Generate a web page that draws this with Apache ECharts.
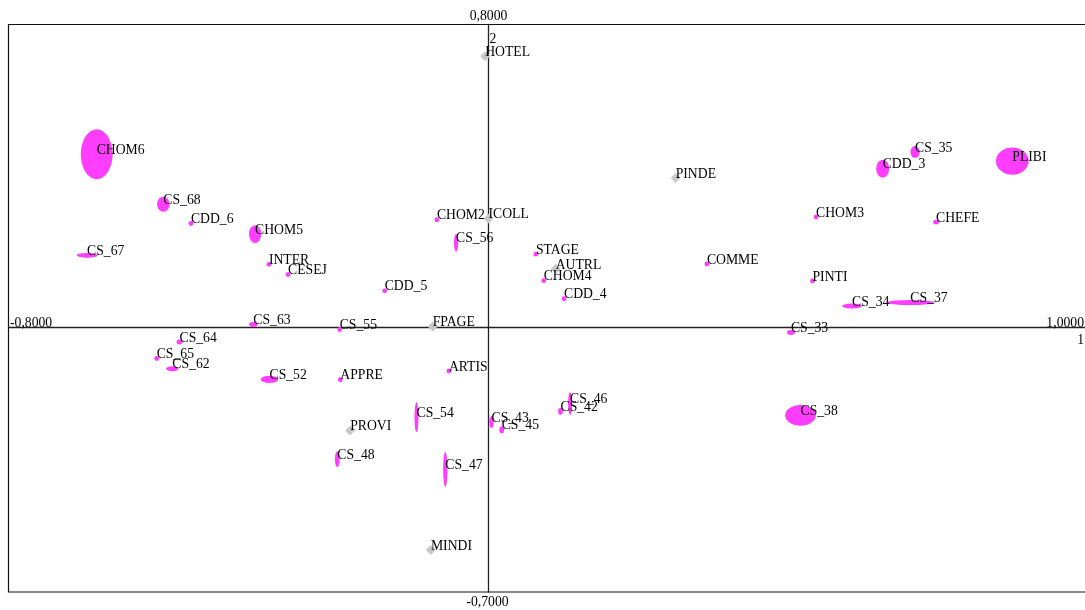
<!DOCTYPE html>
<html><head><meta charset="utf-8">
<script src="https://cdn.jsdelivr.net/npm/echarts@6/dist/echarts.min.js"></script>
<style>html,body{margin:0;padding:0;background:#fff}#c{width:1085px;height:610px}</style>
</head><body><div id="c"></div>
<script>
// Active categories (magenta ellipses)
const activeNames = ['CHOM6','CS_68','CDD_6','CHOM5','CS_67','INTER','CESEJ','CDD_5','CHOM2','CS_56','STAGE','CHOM4','CDD_4','CS_63','CS_55','CS_64','CS_65','CS_62','CS_52','APPRE','ARTIS','CS_54','CS_48','CS_47','CS_43','CS_45','CS_42','CS_46','CS_38','CS_33','CS_34','CS_37','PINTI','COMME','CHOM3','CHEFE','CDD_3','CS_35','PLIBI'];
const activeX = [-0.653,-0.542,-0.496,-0.389,-0.669,-0.366,-0.334,-0.173,-0.086,-0.054,0.079,0.092,0.126,-0.392,-0.248,-0.515,-0.553,-0.527,-0.365,-0.247,-0.066,-0.120,-0.252,-0.072,0.005,0.022,0.120,0.136,0.520,0.504,0.606,0.703,0.540,0.364,0.546,0.746,0.657,0.711,0.873];
const activeY = [0.457,0.325,0.274,0.246,0.190,0.166,0.139,0.096,0.284,0.223,0.193,0.123,0.075,0.007,-0.006,-0.039,-0.083,-0.110,-0.138,-0.139,-0.116,-0.238,-0.349,-0.376,-0.251,-0.271,-0.222,-0.202,-0.233,-0.014,0.056,0.065,0.122,0.167,0.291,0.278,0.419,0.463,0.439];
// Ellipse extents, in axis units (horizontal / vertical)
const ellipseW = [0.053,0.021,0.008,0.0205,0.0345,0.008,0.008,0.008,0.008,0.0072,0.008,0.008,0.008,0.014,0.008,0.010,0.008,0.0205,0.029,0.008,0.008,0.0067,0.008,0.0072,0.0072,0.008,0.008,0.0067,0.051,0.0133,0.0333,0.0805,0.008,0.008,0.008,0.010,0.0217,0.0155,0.0545];
const ellipseH = [0.132,0.040,0.013,0.047,0.0124,0.013,0.013,0.013,0.013,0.047,0.013,0.013,0.013,0.013,0.013,0.013,0.013,0.013,0.0193,0.013,0.013,0.079,0.0415,0.0926,0.0325,0.0185,0.0185,0.060,0.0548,0.013,0.013,0.0132,0.013,0.013,0.013,0.012,0.0476,0.0317,0.0722];
// Supplementary categories (grey diamonds)
const suppNames = ['HOTEL','ICOLL','AUTRL','FPAGE','PINDE','PROVI','MINDI'];
const suppX = [-0.0055,0.000,0.112,-0.093,0.312,-0.2305,-0.096];
const suppY = [0.716,0.287,0.154,0.002,0.394,-0.273,-0.589];
// Axis bounds and their labels
const xBounds = [-0.8, 1.0];
const yBounds = [-0.7, 0.8];
const xBoundLabels = ['-0,8000','1,0000'];
const yBoundLabels = ['-0,7000','0,8000'];
const axisNumbers = ['1','2'];

const FS = 13.7;
const FONT = FS + 'px "Liberation Serif", "DejaVu Serif", serif';
const chart = echarts.init(document.getElementById('c'), null, {renderer:'canvas'});
const axisLine = {show:true, onZero:true, lineStyle:{color:'#222', width:1.3}};
chart.setOption({
  animation:false,
  backgroundColor:'#fff',
  grid:{left:8.5, top:24.5, width:1080, height:567.5, outerBoundsMode:'none', containLabel:false, show:true, borderColor:'#111', borderWidth:1.2, backgroundColor:'transparent'},
  xAxis:{type:'value', min:xBounds[0], max:xBounds[1], axisLine:axisLine, axisTick:{show:false}, axisLabel:{show:false}, splitLine:{show:false}},
  yAxis:{type:'value', min:yBounds[0], max:yBounds[1], axisLine:axisLine, axisTick:{show:false}, axisLabel:{show:false}, splitLine:{show:false}},
  series:[]
});
const p0 = chart.convertToPixel({gridIndex:0},[0,0]);
const p1 = chart.convertToPixel({gridIndex:0},[1,1]);
const kx = p1[0]-p0[0], ky = p0[1]-p1[1];
const pMin = chart.convertToPixel({gridIndex:0},[xBounds[0], yBounds[0]]);
const pMax = chart.convertToPixel({gridIndex:0},[xBounds[1], yBounds[1]]);

const labelCfg = {show:true, position:['50%','50%'], align:'left', verticalAlign:'middle', offset:[0,-4],
  formatter:p=>p.name, color:'#000', fontFamily:'"Liberation Serif", "DejaVu Serif", serif', fontSize:FS};

const activeData = activeNames.map((n,i)=>({name:n, value:[activeX[i],activeY[i]],
  symbolSize:[Math.max(4, ellipseW[i]*kx), Math.max(4, ellipseH[i]*ky)]}));
const suppData = suppNames.map((n,i)=>({name:n, value:[suppX[i],suppY[i]]}));

function txt(text, x, y, align, valign){
  return {type:'text', silent:true, z:100, style:{text:text, x:x, y:y, textAlign:align, textVerticalAlign:valign, font:FONT, fill:'#000'}};
}
chart.setOption({
  series:[
    {type:'scatter', name:'supp', data:suppData, symbol:'diamond', symbolSize:10, itemStyle:{color:'#c8c8c8', opacity:1}, label:labelCfg, z:2},
    {type:'scatter', name:'active', data:activeData, symbol:'circle', itemStyle:{color:'#ff3dff', opacity:1}, label:labelCfg, z:3}
  ],
  graphic:[
    txt(yBoundLabels[1], p0[0], pMax[1]-8.5, 'center', 'middle'),
    txt(yBoundLabels[0], p0[0]-1, pMin[1]+10, 'center', 'middle'),
    txt(xBoundLabels[0], pMin[0]+1.5, p0[1]-4, 'left', 'middle'),
    txt(xBoundLabels[1], 1084, p0[1]-4, 'right', 'middle'),
    txt(axisNumbers[0], 1084, p0[1]+13, 'right', 'middle'),
    txt(axisNumbers[1], p0[0]+1, pMax[1]+14.5, 'left', 'middle')
  ]
});
</script></body></html>
